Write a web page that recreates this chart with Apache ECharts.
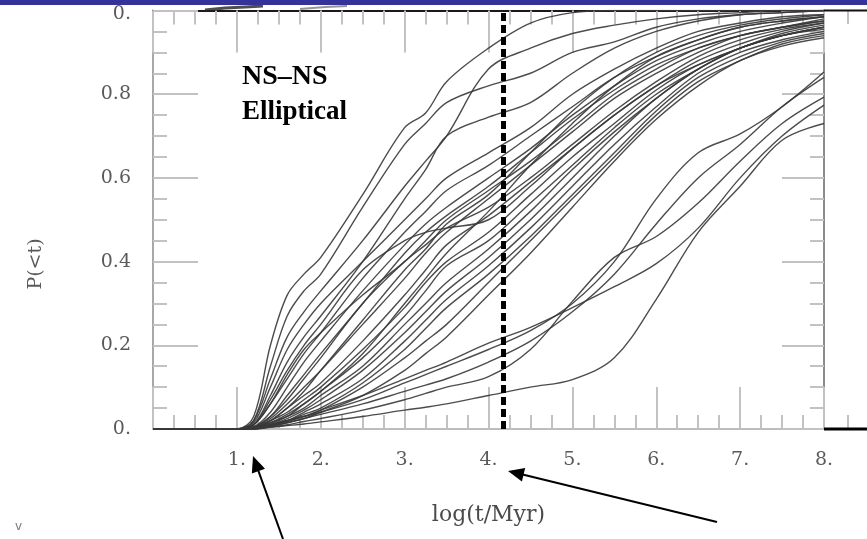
<!DOCTYPE html>
<html>
<head>
<meta charset="utf-8">
<script src="https://cdn.jsdelivr.net/npm/echarts@6/dist/echarts.min.js"></script>
<style>
html,body{margin:0;padding:0;background:#fff;}
#chart{width:867px;height:539px;}
</style>
</head>
<body>
<div id="chart"></div>
<script>
// shared x grid (log(t/Myr))
const xGrid = [0, 1, 1.2, 1.4, 1.6, 1.8, 2, 2.5, 3, 3.25, 3.5, 4, 4.5, 5, 5.5, 6, 6.5, 7, 7.5, 8];

// fast risers
const F1 = [0,0,.03,.20,.32,.37,.41,.56,.72,.755,.83,.91,.97,.995,1,1,1,1,1,1];
const F2 = [0,0,.02,.12,.22,.28,.33,.45,.58,.64,.70,.86,.91,.945,.965,.98,.99,.995,1,1];
const F3 = [0,0,.02,.15,.27,.33,.37,.53,.68,.73,.78,.82,.85,.90,.925,.96,.98,.99,.995,1];
const F4 = [0,0,.01,.08,.16,.22,.27,.40,.55,.62,.70,.745,.78,.85,.91,.95,.975,.99,.995,1];
const F5 = [0,0,.015,.10,.19,.25,.30,.40,.50,.55,.60,.66,.72,.80,.86,.91,.95,.97,.985,.99];
const F6 = [0,0,.01,.06,.12,.18,.23,.36,.47,.52,.57,.63,.70,.77,.84,.89,.93,.96,.975,.985];
// main band
const M1  = [0,0,.005,.04,.10,.16,.21,.33,.44,.49,.53,.60,.67,.75,.82,.88,.92,.95,.97,.985];
const M2  = [0,0,.005,.03,.08,.13,.18,.30,.42,.47,.51,.58,.66,.74,.81,.87,.91,.94,.96,.98];
const M3  = [0,0,.004,.025,.06,.10,.14,.25,.36,.42,.47,.55,.63,.71,.79,.85,.90,.94,.96,.975];
const M4  = [0,0,.004,.03,.07,.12,.17,.30,.40,.44,.48,.53,.60,.68,.76,.83,.89,.93,.955,.97];
const M5  = [0,0,.003,.02,.05,.08,.11,.21,.32,.38,.44,.51,.59,.67,.75,.82,.88,.92,.95,.97];
const M6  = [0,0,.01,.07,.14,.20,.25,.38,.45,.47,.48,.50,.58,.67,.75,.82,.87,.91,.94,.96];
const M7  = [0,0,.003,.02,.04,.07,.10,.19,.29,.35,.40,.47,.56,.65,.73,.81,.87,.91,.945,.965];
const M8  = [0,0,.003,.015,.035,.06,.09,.17,.27,.33,.39,.45,.54,.63,.72,.80,.86,.91,.94,.96];
const M9  = [0,0,.002,.015,.03,.05,.08,.15,.25,.30,.35,.43,.52,.62,.71,.79,.86,.91,.94,.96];
const M10 = [0,0,.002,.01,.025,.045,.07,.14,.23,.28,.33,.41,.50,.60,.70,.79,.86,.91,.94,.955];
const M11 = [0,0,.002,.01,.02,.04,.06,.12,.21,.26,.31,.39,.48,.58,.68,.77,.85,.90,.93,.95];
const M12 = [0,0,.002,.01,.02,.035,.05,.11,.19,.24,.29,.37,.46,.56,.66,.76,.84,.89,.925,.945];
const M13 = [0,0,.001,.008,.018,.03,.045,.10,.17,.21,.25,.35,.45,.55,.65,.75,.83,.88,.92,.94];
const M14 = [0,0,.001,.006,.015,.025,.04,.08,.14,.18,.22,.32,.42,.53,.64,.74,.82,.88,.915,.935];
const M15 = [0,0,.01,.06,.13,.19,.23,.32,.40,.45,.50,.57,.64,.72,.80,.86,.91,.94,.96,.975];
const M16 = [0,0,.003,.02,.05,.09,.14,.26,.38,.43,.49,.56,.66,.76,.84,.90,.94,.965,.98,.99];
const M17 = [0,0,.002,.012,.03,.06,.09,.18,.30,.36,.42,.52,.63,.73,.82,.89,.93,.96,.975,.985];
// late risers
const L1 = [0,0,0,.004,.008,.012,.017,.03,.045,.052,.06,.08,.10,.118,.17,.31,.47,.58,.69,.73];
const L2 = [0,0,0,.005,.01,.018,.025,.045,.07,.085,.10,.125,.19,.305,.41,.46,.54,.64,.73,.793];
const L3 = [0,0,0,.008,.015,.025,.035,.06,.09,.105,.12,.16,.21,.28,.37,.49,.60,.68,.77,.84];
const L4 = [0,0,0,.01,.02,.03,.04,.07,.11,.13,.15,.19,.235,.30,.40,.55,.66,.705,.77,.853];
const L5 = [0,0,0,.01,.02,.03,.045,.08,.12,.14,.16,.205,.243,.29,.34,.395,.48,.60,.70,.774];

const curves = [F1,F2,F3,F4,F5,F6,M1,M2,M3,M4,M5,M6,M7,M8,M9,M10,M11,M12,M13,M14,M15,M16,M17,L1,L2,L3,L4,L5];

const dashedX = [4.17];
const xTicks = [1,2,3,4,5,6,7,8];
const yTicks = [0,0.2,0.4,0.6,0.8,1];
const yTickText = ['0.','0.2','0.4','0.6','0.8','0.'];
const labelTitle = ['NS\u2013NS','Elliptical'];
const xName = 'log(t/Myr)';
const yName = 'P(<t)';

const chart = echarts.init(document.getElementById('chart'), null, {renderer:'canvas'});

const tickGray = '#c2c2c2';
const labelFont = {color:'#5a5a5a', fontFamily:'DejaVu Serif', fontSize:19};

const series = curves.map((c, i) => ({
  type:'line',
  data: xGrid.map((x, j) => [x, c[j]]),
  showSymbol:false,
  smooth:0.35,
  clip:true,
  silent:true,
  lineStyle:{color:'#383838', width:1.4, opacity:0.9},
  z:3,
  markLine: i === 0 ? {
    silent:true, symbol:'none', label:{show:false},
    lineStyle:{color:'#000', width:5, type:[8,4], opacity:1},
    data: dashedX.map(v => ({xAxis:v})),
    z:5
  } : undefined
}));

function arrow(x1,y1,x2,y2){
  const dx=x2-x1, dy=y2-y1, L=Math.hypot(dx,dy), ux=dx/L, uy=dy/L;
  const hl=16, hw=7;
  const bx=x2-ux*hl, by=y2-uy*hl;
  return [
    {type:'line', shape:{x1:x1,y1:y1,x2:bx+ux*2,y2:by+uy*2}, style:{stroke:'#000', lineWidth:2}, z:10},
    {type:'polygon', shape:{points:[[x2,y2],[bx-uy*hw,by+ux*hw],[bx+uy*hw,by-ux*hw]]}, style:{fill:'#000'}, z:10}
  ];
}

const graphics = [
  {type:'rect', shape:{x:0,y:0,width:867,height:5}, style:{fill:'#333399'}, z:20},
  {type:'line', shape:{x1:824,y1:10.5,x2:867,y2:10.5}, style:{stroke:'#111', lineWidth:2}, z:10},
  {type:'line', shape:{x1:824,y1:429,x2:867,y2:429}, style:{stroke:'#000', lineWidth:3}, z:10},
  {type:'line', shape:{x1:848,y1:10,x2:848,y2:24}, style:{stroke:tickGray, lineWidth:2}, z:9},
  {type:'line', shape:{x1:848,y1:415,x2:848,y2:429}, style:{stroke:tickGray, lineWidth:2}, z:9},
  {type:'polyline', shape:{points:[[205,10],[225,8],[245,7],[263,6]]}, style:{stroke:'#222', lineWidth:3, opacity:0.8}, z:9},
  {type:'polyline', shape:{points:[[300,9],[325,7],[347,6]]}, style:{stroke:'#666', lineWidth:2, opacity:0.7}, z:9},
  {type:'text', x:242, y:63, style:{text:labelTitle[0], font:'bold 28px "Liberation Serif"', fill:'#000'}, z:10},
  {type:'text', x:242, y:99, style:{text:labelTitle[1], font:'bold 27px "Liberation Serif"', fill:'#000'}, z:10},
  {type:'text', x:36, y:264, rotation:Math.PI/2,
   style:{text:yName, font:'19px "DejaVu Serif"', fill:'#5a5a5a', align:'center', verticalAlign:'middle'}, z:10},
  {type:'text', x:15, y:521, style:{text:'v', font:'12px "DejaVu Sans"', fill:'#777'}, z:10}
].concat(arrow(283,539,253,456), arrow(717,522,508,471));

const baseTick = {inside:true, length:42, lineStyle:{color:tickGray, width:2}};
const baseMinor = {show:true, splitNumber:4, length:14, lineStyle:{color:tickGray, width:2}};

const option = {
  animation:false,
  backgroundColor:'#fff',
  grid:{left:153, right:43, top:10.5, bottom:110, containLabel:false},
  xAxis:[
    {type:'value', position:'bottom', min:0, max:8, interval:1,
     axisLine:{show:true, onZero:false, lineStyle:{color:'#bdbdbd', width:2}},
     axisTick:baseTick, minorTick:baseMinor,
     splitLine:{show:false}, minorSplitLine:{show:false},
     axisLabel:Object.assign({margin:22, formatter:v => xTicks.includes(v) ? v + '.' : ''}, labelFont),
     name:xName, nameLocation:'middle', nameGap:75,
     nameTextStyle:{color:'#4a4a4a', fontFamily:'DejaVu Serif', fontSize:22}},
    {type:'value', position:'top', min:0, max:8, interval:1,
     axisLine:{show:true, onZero:false, lineStyle:{color:'#1a1a1a', width:2}},
     axisTick:baseTick, minorTick:baseMinor,
     splitLine:{show:false}, axisLabel:{show:false}}
  ],
  yAxis:[
    {type:'value', position:'left', min:0, max:1, interval:0.2,
     axisLine:{show:true, onZero:false, lineStyle:{color:'#a8a8a8', width:2}},
     axisTick:baseTick, minorTick:baseMinor,
     splitLine:{show:false}, minorSplitLine:{show:false},
     axisLabel:Object.assign({margin:22, formatter:v => {
       const k = yTicks.findIndex(t => Math.abs(t - v) < 1e-6);
       if (k < 0) return '';
       return k === yTicks.length - 1 ? '{t|' + yTickText[k] + '}' : yTickText[k];
     }, rich:{t:{padding:[7,0,0,0], color:'#5a5a5a', fontFamily:'DejaVu Serif', fontSize:19}}}, labelFont)},
    {type:'value', position:'right', min:0, max:1, interval:0.2,
     axisLine:{show:true, onZero:false, lineStyle:{color:'#8c8c8c', width:2}},
     axisTick:baseTick, minorTick:baseMinor,
     splitLine:{show:false}, axisLabel:{show:false}},
    {type:'value', position:'right', min:0, max:1, interval:0.2,
     axisLine:{show:false},
     axisTick:{inside:false, length:45, lineStyle:{color:tickGray, width:2}},
     minorTick:{show:true, splitNumber:4, length:14, lineStyle:{color:tickGray, width:2}},
     splitLine:{show:false}, axisLabel:{show:false}}
  ],
  series: series,
  graphic: graphics
};
chart.setOption(option);
</script>
</body>
</html>
